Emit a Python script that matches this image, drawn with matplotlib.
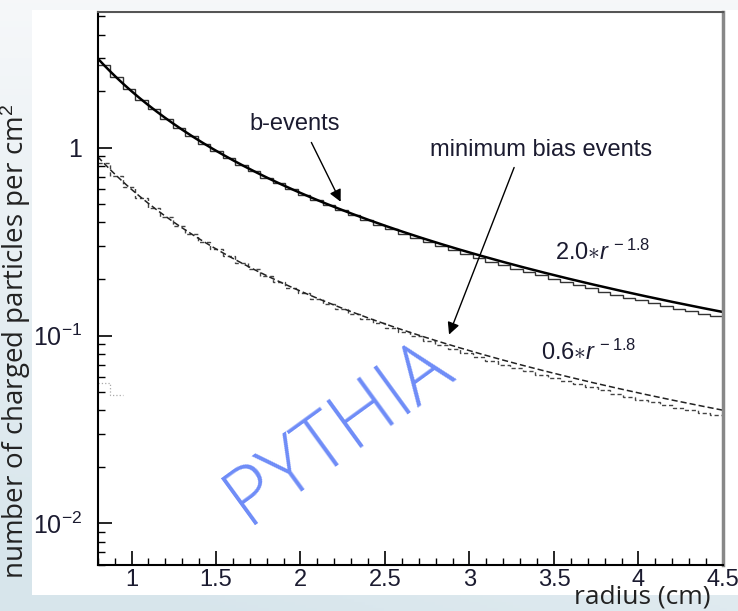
import matplotlib
matplotlib.use('Agg')
import matplotlib.pyplot as plt
import numpy as np
from matplotlib.patches import Rectangle
from matplotlib.ticker import MultipleLocator, LogLocator, NullFormatter

plt.rcParams['font.family'] = ['Liberation Sans', 'DejaVu Sans']
plt.rcParams['mathtext.fontset'] = 'custom'
plt.rcParams['mathtext.rm'] = 'Liberation Sans'
plt.rcParams['mathtext.it'] = 'Liberation Sans:italic'

# radial binning of the simulated hit density
R_MIN, R_MAX, N_BINS = 0.8, 4.5, 50

# charged particles per cm^2, one value per radial bin
B_EVENTS = [2.76, 2.37, 2.06, 1.80, 1.60, 1.43, 1.28, 1.16, 1.05, 0.96,
            0.88, 0.81, 0.75, 0.69, 0.645, 0.60, 0.563, 0.527, 0.494, 0.465,
            0.436, 0.410, 0.388, 0.368, 0.349, 0.331, 0.315, 0.300, 0.286, 0.272,
            0.259, 0.247, 0.236, 0.227, 0.218, 0.209, 0.201, 0.193, 0.186, 0.180,
            0.171, 0.165, 0.159, 0.154, 0.149, 0.144, 0.139, 0.135, 0.131, 0.127]
MIN_BIAS = [0.826, 0.71, 0.617, 0.54, 0.48, 0.428, 0.384, 0.347, 0.316, 0.288,
            0.264, 0.243, 0.225, 0.208, 0.193, 0.180, 0.168, 0.157, 0.148, 0.139,
            0.131, 0.123, 0.116, 0.110, 0.104, 0.099, 0.094, 0.089, 0.085, 0.081,
            0.077, 0.0735, 0.070, 0.0672, 0.0645, 0.062, 0.0597, 0.0574, 0.0553, 0.0533,
            0.051, 0.049, 0.0472, 0.0456, 0.0441, 0.0427, 0.0413, 0.0401, 0.0389, 0.0378]
LOW_TAIL = [0.056, 0.048]

# power-law fits  N * r^SLOPE
B_NORM, MB_NORM, SLOPE = 2.0, 0.6, -1.8

Y_TICKS = [0.01, 0.1, 1]
Y_TICK_LABELS = ['$10^{-2}$', '$10^{-1}$', '1']
X_TICKS = [1, 1.5, 2, 2.5, 3, 3.5, 4, 4.5]
X_TICK_LABELS = ['1', '1.5', '2', '2.5', '3', '3.5', '4', '4.5']

TXT = '#1b1b30'
LABEL_FONT = ['Open Sans', 'DejaVu Sans']

fig = plt.figure(figsize=(7.38, 6.11), dpi=100)

# slide background: pale blue wash, white card behind the plot
bg = fig.add_axes([0, 0, 1, 1], zorder=-10)
gy, gx = np.mgrid[0:1:200j, 0:1:200j]
t = np.clip(0.75 * gy + 0.35 * (1 - gx) * gy, 0, 1)[..., None]
top_c = np.array([0.965, 0.972, 0.980])
bot_c = np.array([0.845, 0.900, 0.925])
bg.imshow(top_c * (1 - t) + bot_c * t, extent=[0, 1, 0, 1], aspect='auto', origin='upper')
bg.add_patch(Rectangle((32 / 738, 1 - 595 / 611), 1 - 32 / 738, (595 - 10) / 611,
                       facecolor='white', edgecolor='none'))
bg.set_xlim(0, 1)
bg.set_ylim(0, 1)
bg.axis('off')

ax = fig.add_axes([97.7 / 738, 1 - 565 / 611, (723 - 97.7) / 738, (565 - 11.7) / 611])
ax.set_facecolor('none')

edges = np.linspace(R_MIN, R_MAX, N_BINS + 1)
r = np.linspace(R_MIN, R_MAX, 300)

ax.stairs(B_EVENTS, edges, baseline=None, color='#333333', linewidth=1.0)
ax.plot(r, B_NORM * r ** SLOPE, color='black', linewidth=1.8)
ax.stairs(MIN_BIAS, edges, baseline=None, color='#444444', linewidth=1.0,
          linestyle=(0, (3, 2)))
ax.plot(r, MB_NORM * r ** SLOPE, color='#222222', linewidth=1.1, linestyle=(0, (4, 2)))
ax.stairs(LOW_TAIL, edges[:len(LOW_TAIL) + 1], baseline=None, color='#aaaaaa',
          linewidth=0.9, linestyle=':')

ax.set_yscale('log')
ax.set_xlim(R_MIN, R_MAX)
ax.set_ylim(0.006, 5.3)

ax.set_xticks(X_TICKS)
ax.set_xticklabels(X_TICK_LABELS)
ax.xaxis.set_minor_locator(MultipleLocator(0.1))
ax.set_yticks(Y_TICKS)
ax.set_yticklabels(Y_TICK_LABELS)
ax.yaxis.set_minor_locator(LogLocator(base=10, subs=np.arange(2, 10)))
ax.yaxis.set_minor_formatter(NullFormatter())

ax.tick_params(which='both', direction='in', top=False, right=False, colors='black',
               labelcolor=TXT)
ax.tick_params(which='major', length=10, width=1.2)
ax.tick_params(which='minor', length=5, width=1.0)
ax.tick_params(axis='x', pad=3, labelsize=17)
ax.tick_params(axis='y', pad=11, labelsize=18)

for side in ('left', 'bottom'):
    ax.spines[side].set_color('black')
    ax.spines[side].set_linewidth(1.5)
ax.spines['top'].set_color('#555555')
ax.spines['top'].set_linewidth(1.5)
ax.spines['right'].set_color('#888888')
ax.spines['right'].set_linewidth(2.5)

arrow = dict(arrowstyle='-|>', color='black', lw=1.0, mutation_scale=18)
ax.text(1.967, 1.33, 'b-events', fontsize=17, color=TXT, ha='center', va='center')
ax.annotate('', xy=(2.245, 0.50), xytext=(2.057, 1.10), arrowprops=arrow)
ax.text(3.424, 0.976, 'minimum bias events', fontsize=17, color=TXT,
        ha='center', va='center')
ax.annotate('', xy=(2.873, 0.098), xytext=(3.27, 0.81), arrowprops=arrow)
ax.text(3.506, 0.278, r'$2.0{\ast}r^{\,-1.8}$', fontsize=17, color=TXT,
        ha='left', va='center')
ax.text(3.423, 0.081, r'$0.6{\ast}r^{\,-1.8}$', fontsize=17, color=TXT,
        ha='left', va='center')

ax.text(2.234, 0.0303, 'PYTHIA', fontsize=58, color='#6e8cf7', rotation=36,
        ha='center', va='center', family=LABEL_FONT,
        fontweight='light', rotation_mode='anchor')

fig.text(16 / 738, 1 - 341 / 611, 'number of charged particles per cm$^2$', rotation=90,
         ha='center', va='center', fontsize=20, color='#222222', family=LABEL_FONT)
fig.text(642 / 738, 1 - 604 / 611, 'radius (cm)', ha='center', va='baseline',
         fontsize=19, color='#222222', family=LABEL_FONT)

fig.savefig('out.png', dpi=100)
